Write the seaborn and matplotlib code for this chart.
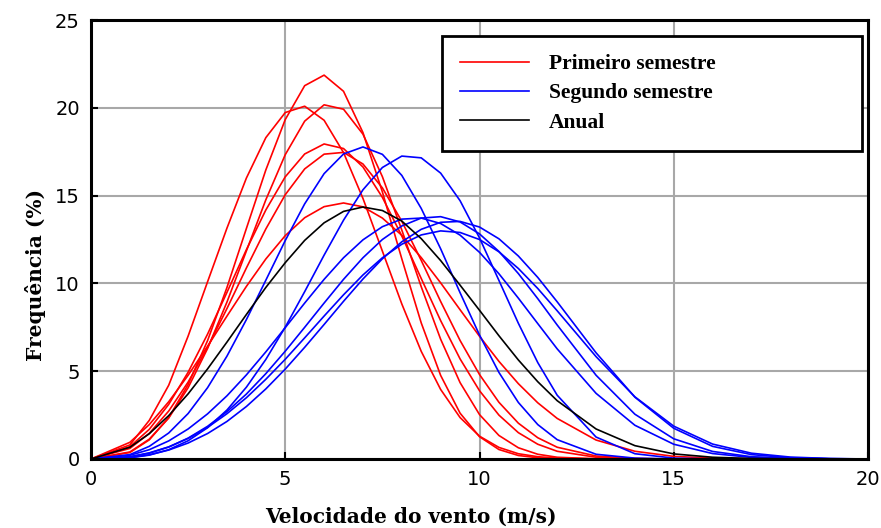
import matplotlib
matplotlib.use("Agg")
import matplotlib.pyplot as plt
import seaborn as sns
import pandas as pd
from matplotlib.lines import Line2D
from matplotlib.font_manager import FontProperties

# wind speed grid (m/s) at which the curves were read
speed = [0, 1, 1.5, 2, 2.5, 3, 3.5, 4, 4.5, 5, 5.5, 6, 6.5, 7, 7.5, 8, 8.5, 9, 9.5, 10,
         10.5, 11, 11.5, 12, 13, 14, 15, 16, 17, 18, 19, 20]

# Primeiro semestre (red)
red_1 = [0, 0.37, 1.09, 2.36, 4.24, 6.74, 9.77, 13.13, 16.46, 19.33, 21.26, 21.86, 20.94, 18.59, 15.21, 11.40, 7.75, 4.76, 2.61, 1.27, 0.54, 0.20, 0.07, 0.02, 0, 0, 0, 0, 0, 0, 0, 0]
red_2 = [0, 0.40, 1.13, 2.33, 4.06, 6.29, 8.94, 11.85, 14.76, 17.33, 19.24, 20.17, 19.92, 18.50, 16.08, 13.04, 9.81, 6.82, 4.35, 2.53, 1.34, 0.64, 0.27, 0.10, 0.01, 0, 0, 0, 0, 0, 0, 0]
red_3 = [0, 0.80, 2.20, 4.20, 7.00, 10.09, 13.15, 16.00, 18.30, 19.73, 20.09, 19.29, 17.45, 14.84, 11.84, 8.83, 6.13, 3.96, 2.36, 1.30, 0.66, 0.30, 0.13, 0.05, 0.01, 0, 0, 0, 0, 0, 0, 0]
red_4 = [0, 0.70, 1.69, 3.11, 4.94, 7.11, 9.49, 11.92, 14.18, 16.07, 17.37, 17.94, 17.68, 16.63, 14.90, 12.70, 10.28, 7.88, 5.70, 3.89, 2.50, 1.50, 0.84, 0.44, 0.10, 0.02, 0, 0, 0, 0, 0, 0]
red_5 = [0, 0.60, 1.46, 2.73, 4.38, 6.36, 8.57, 10.88, 13.10, 15.05, 16.52, 17.36, 17.46, 16.80, 15.44, 13.54, 11.31, 8.97, 6.75, 4.81, 3.23, 2.04, 1.21, 0.67, 0.17, 0.03, 0, 0, 0, 0, 0, 0]
red_6 = [0, 0.95, 1.96, 3.26, 4.77, 6.42, 8.14, 9.83, 11.39, 12.72, 13.74, 14.37, 14.58, 14.36, 13.72, 12.74, 11.47, 10.03, 8.50, 6.99, 5.56, 4.29, 3.20, 2.31, 1.08, 0.44, 0.15, 0.05, 0.01, 0, 0, 0]

# Segundo semestre (blue)
blue_1 = [0, 0.25, 0.72, 1.48, 2.59, 4.06, 5.86, 7.94, 10.18, 12.44, 14.53, 16.25, 17.37, 17.77, 17.35, 16.15, 14.27, 11.97, 9.47, 7.06, 4.93, 3.22, 1.96, 1.10, 0.27, 0.05, 0, 0, 0, 0, 0, 0]
blue_2 = [0, 0.07, 0.22, 0.53, 1.04, 1.78, 2.79, 4.09, 5.67, 7.51, 9.53, 11.61, 13.60, 15.33, 16.60, 17.25, 17.15, 16.28, 14.71, 12.59, 10.17, 7.73, 5.49, 3.63, 1.25, 0.30, 0.05, 0, 0, 0, 0, 0]
blue_3 = [0, 0.21, 0.53, 1.03, 1.71, 2.57, 3.60, 4.79, 6.10, 7.48, 8.88, 10.23, 11.46, 12.48, 13.23, 13.66, 13.72, 13.41, 12.75, 11.77, 10.55, 9.16, 7.71, 6.27, 3.74, 1.92, 0.84, 0.31, 0.09, 0.03, 0.01, 0]
blue_4 = [0, 0.12, 0.33, 0.68, 1.19, 1.86, 2.70, 3.70, 4.86, 6.14, 7.50, 8.88, 10.23, 11.46, 12.50, 13.27, 13.72, 13.80, 13.50, 12.82, 11.82, 10.56, 9.13, 7.63, 4.77, 2.55, 1.15, 0.43, 0.13, 0.04, 0.01, 0]
blue_5 = [0, 0.13, 0.35, 0.69, 1.17, 1.80, 2.58, 3.49, 4.54, 5.68, 6.90, 8.14, 9.35, 10.48, 11.46, 12.23, 12.76, 12.99, 12.90, 12.50, 11.80, 10.85, 9.71, 8.44, 5.83, 3.54, 1.87, 0.85, 0.33, 0.11, 0.03, 0]
blue_6 = [0, 0.08, 0.24, 0.51, 0.91, 1.45, 2.14, 2.99, 3.99, 5.12, 6.36, 7.66, 8.98, 10.25, 11.40, 12.37, 13.08, 13.48, 13.53, 13.21, 12.54, 11.56, 10.34, 8.95, 6.05, 3.52, 1.75, 0.72, 0.25, 0.07, 0.02, 0]

# Anual (black)
annual = [0, 0.67, 1.44, 2.47, 3.71, 5.13, 6.66, 8.23, 9.77, 11.18, 12.45, 13.45, 14.10, 14.35, 14.15, 13.55, 12.55, 11.30, 9.90, 8.47, 7.02, 5.64, 4.40, 3.32, 1.71, 0.76, 0.29, 0.10, 0.03, 0.01, 0, 0]

labels = ["Primeiro semestre", "Segundo semestre", "Anual"]
colors = ["#ff0000", "#0000ff", "#000000"]

curves = [
    ("r1", labels[0], red_1), ("r2", labels[0], red_2), ("r3", labels[0], red_3),
    ("r4", labels[0], red_4), ("r5", labels[0], red_5), ("r6", labels[0], red_6),
    ("b1", labels[1], blue_1), ("b2", labels[1], blue_2), ("b3", labels[1], blue_3),
    ("b4", labels[1], blue_4), ("b5", labels[1], blue_5), ("b6", labels[1], blue_6),
    ("a", labels[2], annual),
]
rows = []
for cid, grp, vals in curves:
    for s, v in zip(speed, vals):
        rows.append({"curve": cid, "period": grp, "speed": s, "freq": v})
df = pd.DataFrame(rows)

fig = plt.figure(figsize=(8.81, 5.28), dpi=100)
ax = fig.add_axes([91 / 881, 1 - 459 / 528, 777 / 881, 439 / 528])

sns.lineplot(data=df, x="speed", y="freq", hue="period", units="curve",
             estimator=None, sort=False, palette=dict(zip(labels, colors)),
             linewidth=1.2, legend=False, ax=ax)

ax.set_xlim(0, 20)
ax.set_ylim(0, 25)
ax.set_xticks([0, 5, 10, 15, 20])
ax.set_yticks([0, 5, 10, 15, 20, 25])
ax.grid(True, color="#a8a8a8", linewidth=1.5)
ax.set_axisbelow(True)
for sp in ax.spines.values():
    sp.set_color("black")
    sp.set_linewidth(2.2)
ax.tick_params(direction="in", length=5, width=1.5, labelsize=14, pad=8,
               colors="black")
for lab in ax.get_xticklabels() + ax.get_yticklabels():
    lab.set_fontfamily("DejaVu Sans")

label_font = FontProperties(family="DejaVu Serif", weight="bold", size=14.5)
ax.set_xlabel("Velocidade do vento (m/s)", fontproperties=label_font)
ax.set_ylabel("Frequência (%)", fontproperties=label_font)
ax.xaxis.set_label_coords(0.412, -0.108)
ax.yaxis.set_label_coords(-0.058, 0.42)

handles = [Line2D([], [], color=c, linewidth=1.2) for c in colors]
leg = ax.legend(handles, labels, loc="upper left",
                bbox_to_anchor=(0.4517, 0.9636, 0.5405, 0.0), mode="expand",
                frameon=True, fancybox=False, framealpha=1, edgecolor="black",
                prop=FontProperties(family="Liberation Serif", weight="bold", size=15.5),
                handlelength=3.2, handletextpad=0.9, borderpad=0.85,
                labelspacing=0.42, borderaxespad=0)
leg.get_frame().set_linewidth(2)

fig.savefig("out.png", dpi=100)
